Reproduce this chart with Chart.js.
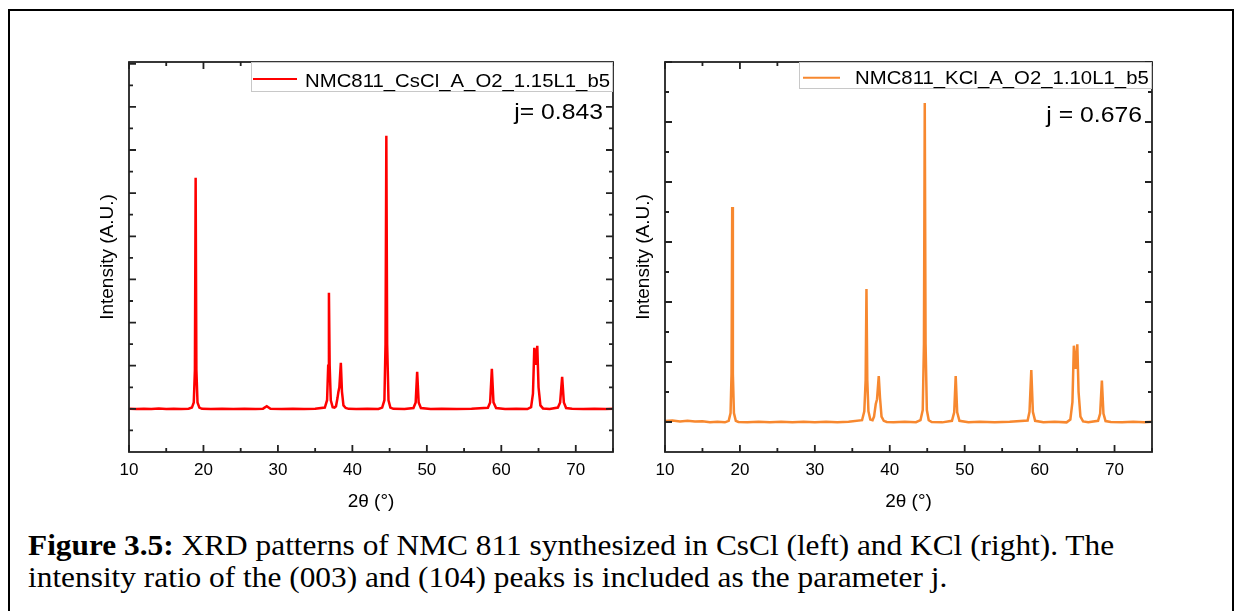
<!DOCTYPE html>
<html>
<head>
<meta charset="utf-8">
<script src="https://cdn.jsdelivr.net/npm/chart.js@4.4.1/dist/chart.umd.min.js"></script>
<style>
  body { margin: 0; background: #fff; width: 1241px; height: 611px; overflow: hidden; position: relative; }
  #frame { position: absolute; left: 8px; top: 9px; width: 1222px; height: 700px; border: 2px solid #000; border-bottom: none; }
  #left { position: absolute; left: 60px; top: 30px; }
  #right { position: absolute; left: 630px; top: 30px; }
  #caption { position: absolute; left: 28px; top: 530px; width: 1100px; font-family: "Liberation Serif", "Times New Roman", serif; font-size: 28.5px; line-height: 32px; color: #000; white-space: nowrap; transform: scaleX(1.1); transform-origin: 0 0; }
</style>
</head>
<body>
<div id="frame"></div>
<canvas id="left" width="570" height="500"></canvas>
<canvas id="right" width="560" height="500"></canvas>
<div id="caption"><b>Figure 3.5:</b> XRD patterns of NMC 811 synthesized in CsCl (left) and KCl (right). The<br>intensity ratio of the (003) and (104) peaks is included as the parameter j.</div>
<script>
// values: 2theta (deg) and intensity (a.u.)
const csclTheta = [10.0, 11.0, 12.0, 13.0, 14.0, 15.0, 16.0, 17.0, 18.0, 18.45, 18.7, 18.85, 18.95, 19.05, 19.2, 19.45, 19.8,
  21.0, 22.5, 24.0, 25.5, 27.0, 28.0, 28.5, 29.0, 30.5, 32.0, 33.5, 35.0, 36.3, 36.6, 36.75, 36.85, 36.95, 37.1, 37.35,
  37.6, 37.8, 38.0, 38.12, 38.25, 38.45, 38.6, 38.8, 39.1, 39.5, 40.5, 42.0, 43.5, 44.0, 44.3, 44.45, 44.56, 44.67, 44.85,
  45.1, 45.5, 47.0, 48.2, 48.5, 48.7, 48.9, 49.2, 50.5, 52.0, 54.0, 56.0, 58.2, 58.5, 58.73, 58.95, 59.3, 60.5, 62.0,
  63.5, 64.0, 64.25, 64.43, 64.63, 64.83, 65.0, 65.25, 65.6, 66.5, 67.6, 67.9, 68.17, 68.4, 68.7, 69.5, 71.0, 72.5, 74.0, 75.0];
const csclIntensity = [1005, 995, 1003, 996, 1006, 997, 1004, 995, 1005, 1030, 1150, 1900, 6355, 1900, 1150, 1030, 1000,
  995, 1003, 996, 1004, 997, 1005, 1060, 1000, 995, 1004, 996, 1003, 1030, 1200, 2000, 3690, 2000, 1200, 1040,
  1030, 1060, 1250, 1390, 1500, 2066, 1400, 1080, 1020, 1000, 996, 1004, 997, 1030, 1200, 2500, 7328, 2500, 1200,
  1030, 1000, 995, 1020, 1150, 1858, 1150, 1020, 997, 1004, 996, 1003, 1025, 1150, 1927, 1150, 1020, 997, 1004,
  995, 1040, 1350, 2414, 2020, 2460, 1500, 1080, 1010, 997, 1030, 1150, 1742, 1150, 1020, 1000, 995, 1003, 997, 1001];

const kclTheta = [10.0, 11.0, 12.0, 13.0, 14.0, 15.0, 16.0, 17.0, 18.0, 18.5, 18.75, 18.88, 18.97, 19.06, 19.2, 19.45, 19.8,
  21.0, 22.5, 24.0, 25.5, 27.0, 28.5, 30.0, 31.5, 33.0, 34.5, 36.3, 36.6, 36.78, 36.89, 37.0, 37.15, 37.4,
  37.7, 37.9, 38.13, 38.3, 38.53, 38.7, 38.9, 39.2, 39.6, 40.5, 42.0, 43.5, 44.1, 44.4, 44.56, 44.67, 44.78, 44.95,
  45.2, 45.6, 47.0, 48.3, 48.6, 48.8, 49.0, 49.3, 50.5, 52.0, 54.0, 56.0, 58.4, 58.65, 58.89, 59.1, 59.4, 60.5, 62.0,
  63.6, 64.1, 64.38, 64.57, 64.8, 65.03, 65.2, 65.45, 65.8, 66.5, 67.8, 68.08, 68.31, 68.52, 68.8, 69.5, 71.0, 72.5, 74.0, 75.0];
const kclIntensity = [15, 25, 10, 20, 8, 12, -5, 5, -5, 20, 150, 800, 3583, 800, 150, 20, 0,
  -6, 6, -4, 5, -6, 4, -5, 6, -4, 5, 30, 180, 700, 2217, 700, 180, 40,
  30, 90, 300, 380, 767, 400, 90, 20, 0, -5, 6, -4, 30, 200, 1300, 5317, 1300, 200,
  30, 0, -6, 20, 160, 767, 160, 20, -4, 6, -5, 4, 25, 170, 867, 170, 20, -4, 5,
  -6, 40, 330, 1272, 883, 1295, 500, 90, 10, -4, 20, 140, 690, 140, 15, 0, -6, 5, -4, 3];

const xMajorTicks = [10, 20, 30, 40, 50, 60, 70];
const xMinorTicks = [15, 25, 35, 45, 55, 65, 75];
const csclYMajor = [1000, 2000, 3000, 4000, 5000, 6000, 7000, 8000, 9000];
const csclYMinor = [500, 1500, 2500, 3500, 4500, 5500, 6500, 7500, 8500];
const kclYMajor = [0, 1000, 2000, 3000, 4000, 5000, 6000];
const kclYMinor = [500, 1500, 2500, 3500, 4500, 5500];

const FONT = '"Liberation Sans", Arial, sans-serif';

// inward ticks on all four sides plus the frame, legend box and the j label
const framePlugin = {
  id: 'frameTicks',
  afterDraw(chart, args, o) {
    const { ctx, chartArea: a, scales: { x, y } } = chart;
    ctx.save();
    ctx.strokeStyle = '#222';
    ctx.lineWidth = 1.8;
    ctx.beginPath();
    const tick = (vals, len, isX) => {
      vals.forEach(v => {
        if (isX) {
          const px = x.getPixelForValue(v);
          ctx.moveTo(px, a.bottom); ctx.lineTo(px, a.bottom - len);
          ctx.moveTo(px, a.top); ctx.lineTo(px, a.top + len);
        } else {
          const py = y.getPixelForValue(v);
          ctx.moveTo(a.left, py); ctx.lineTo(a.left + len, py);
          ctx.moveTo(a.right, py); ctx.lineTo(a.right - len, py);
        }
      });
    };
    tick(xMajorTicks, 7, true);
    tick(xMinorTicks, 4, true);
    tick(o.yMajor, 7, false);
    tick(o.yMinor, 4, false);
    ctx.stroke();
    ctx.strokeRect(a.left, a.top, a.right - a.left, a.bottom - a.top);

    // legend
    const L = o.legend;
    ctx.fillStyle = '#fff';
    ctx.fillRect(a.right - L.boxW, a.top + 1, L.boxW - 1, L.boxH - 1);
    ctx.strokeStyle = '#c8c8c8';
    ctx.lineWidth = 1;
    ctx.strokeRect(a.right - L.boxW + 0.5, a.top + 0.5, L.boxW - 1, L.boxH - 1);
    ctx.strokeStyle = o.color;
    ctx.lineWidth = 2;
    ctx.beginPath();
    ctx.moveTo(a.right - L.lineX0, a.top + L.lineY);
    ctx.lineTo(a.right - L.lineX1, a.top + L.lineY);
    ctx.stroke();
    ctx.fillStyle = '#000';
    ctx.font = '18.5px ' + FONT;
    ctx.textBaseline = 'alphabetic';
    ctx.save();
    ctx.translate(a.right - L.textX, a.top + L.textY);
    ctx.scale(1.1, 1);
    ctx.fillText(chart.data.datasets[0].label, 0, 0);
    ctx.restore();

    // j label
    ctx.font = '22.5px ' + FONT;
    ctx.textAlign = 'right';
    ctx.save();
    ctx.translate(a.right - o.jX, a.top + o.jY);
    ctx.scale(1.1, 1);
    ctx.fillText(o.jText, 0, 0);
    ctx.restore();
    ctx.restore();
  }
};

function makeChart(id, label, theta, intensity, color, yMin, yMax, yWidth, titlePad, rightPad, extra) {
  return new Chart(document.getElementById(id), {
    type: 'line',
    data: {
      datasets: [{
        label: label,
        data: theta.map((t, i) => ({ x: t, y: intensity[i] })),
        borderColor: color,
        borderWidth: 2.5,
        pointRadius: 0,
        tension: 0,
        fill: false
      }]
    },
    options: {
      responsive: false,
      animation: false,
      devicePixelRatio: 1,
      layout: { padding: { top: 32, right: rightPad, left: 0, bottom: 0 } },
      scales: {
        x: {
          type: 'linear',
          min: 10,
          max: 75,
          grid: { display: false },
          border: { display: false },
          ticks: {
            stepSize: 10,
            includeBounds: false,
            padding: 0,
            color: '#000',
            font: { family: FONT, size: 17 },
            maxRotation: 0
          },
          title: { display: true, text: '2θ (°)', color: '#000', font: { family: FONT, size: 19 }, padding: { top: 0, bottom: 17 } },
          afterFit: s => { s.height = 78; }
        },
        y: {
          min: yMin,
          max: yMax,
          grid: { display: false },
          border: { display: false },
          ticks: { display: false },
          title: { display: true, text: 'Intensity (A.U.)', color: '#000', font: { family: FONT, size: 19 }, padding: { top: titlePad, bottom: 0 } },
          afterFit: s => { s.width = yWidth; }
        }
      },
      plugins: {
        legend: { display: false },
        tooltip: { enabled: false },
        frameTicks: extra
      }
    },
    plugins: [framePlugin]
  });
}

makeChart('left', 'NMC811_CsCl_A_O2_1.15L1_b5', csclTheta, csclIntensity, '#FF0000',
  0, 9040, 69, 36, 17, {
    color: '#FF0000', yMajor: csclYMajor, yMinor: csclYMinor, jText: 'j= 0.843', jX: 10, jY: 57,
    legend: { boxW: 362, boxH: 30, lineX0: 360, lineX1: 316, lineY: 17, textX: 308, textY: 24.5 }
  });

makeChart('right', 'NMC811_KCl_A_O2_1.10L1_b5', kclTheta, kclIntensity, '#F7882F',
  -500, 6000, 35, 2.5, 38, {
    color: '#F7882F', yMajor: kclYMajor, yMinor: kclYMinor, jText: 'j = 0.676', jX: 10, jY: 59.5,
    legend: { boxW: 353, boxH: 27, lineX0: 349, lineX1: 312, lineY: 15.7, textX: 297, textY: 22.3 }
  });
</script>
</body>
</html>
